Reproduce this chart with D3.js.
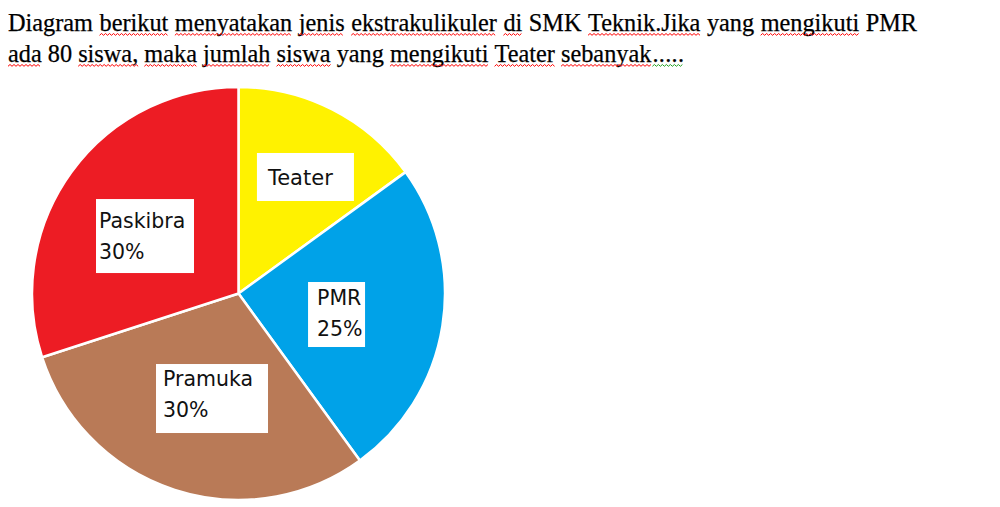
<!DOCTYPE html>
<html><head><meta charset="utf-8">
<script src="https://cdn.jsdelivr.net/npm/d3@7"></script>
<style>body{margin:0;background:#fff;overflow:hidden;} svg{display:block;}</style>
</head><body>
<script>
// ---- data ----
const categories = ["Teater", "PMR", "Pramuka", "Paskibra"];
const percentages = [15, 25, 30, 30];
const labelLines = [["Teater"], ["PMR", "25%"], ["Pramuka", "30%"], ["Paskibra", "30%"]];
const colors = ["#FFF200", "#00A2E8", "#B97A57", "#ED1C24"];
// title tokens: [word, spell-mark ('r' red, 'g' green, '' none), attached to previous word]
const titleLine1 = [["Diagram",""],["berikut","r"],["menyatakan","r"],["jenis","r"],["ekstrakulikuler","r"],["di","r"],["SMK",""],["Teknik.Jika","r"],["yang",""],["mengikuti","r"],["PMR",""]];
const titleLine2 = [["ada","r"],["80",""],["siswa,","r"],["maka","r"],["jumlah","r"],["siswa","r"],["yang",""],["mengikuti","r"],["Teater","r"],["sebanyak","r"],[".....","g",true]];

// ---- layout ----
const W = 1000, H = 507;
const cx = 238.5, cy = 293.5, R = 206.5;
const labelRadius = 110;
const labelShift = [[17, -18.5], [-10.6, 3.8], [7.5, 0.4], [-4.5, 7.2]];
const boxSize = [[97, 48], [57, 65], [112, 69], [98, 74]];
const textInset = [[11, 32], [9, 23], [7, 22], [3, 29]];
const labelFont = [21, 20.5, 20.5, 20.5];
const lineGap = 30.5;

const svg = d3.select("body").append("svg").attr("width", W).attr("height", H);
svg.append("rect").attr("width", W).attr("height", H).attr("fill", "#fff");

// ---- title ----
const titleFont = 24.3;
function drawLine(tokens, baseline, justifyTo) {
  const g = svg.append("g");
  const items = tokens.map(t => {
    const el = g.append("text").attr("y", baseline)
      .attr("font-family", "'Liberation Serif','Times New Roman',serif")
      .attr("font-size", titleFont).attr("fill", "#000")
      .attr("stroke", "#000").attr("stroke-width", 0.25)
      .attr("letter-spacing", t[1] === "g" ? 0.3 : 0)
      .text(t[0]);
    return {el, w: el.node().getComputedTextLength(), mark: t[1], attach: !!t[2]};
  });
  const space = titleFont * 0.25;
  const nGaps = items.filter((d, i) => i > 0 && !d.attach).length;
  const total = d3.sum(items, d => d.w);
  const gap = justifyTo ? (justifyTo - 8 - total) / nGaps : space;
  let x = 8;
  items.forEach((d, i) => {
    if (i > 0 && !d.attach) x += gap;
    if (d.attach) x += 1;
    d.el.attr("x", x);
    if (d.mark) {
      const y0 = baseline + 2.5;
      let p = "M" + x + "," + (y0 + 1.8);
      let up = true;
      for (let xx = x + 2; xx <= x + d.w; xx += 2) { p += "L" + xx + "," + (up ? y0 : y0 + 1.8); up = !up; }
      g.append("path").attr("d", p).attr("fill", "none")
        .attr("stroke", d.mark === "r" ? "#ff0000" : "#22a022").attr("stroke-width", 1);
    }
    x += d.w;
  });
}
drawLine(titleLine1, 31, 917);
drawLine(titleLine2, 62, null);

// ---- pie ----
const pie = d3.pie().sort(null).value(d => d)(percentages);
const arc = d3.arc().innerRadius(0).outerRadius(R);
const pg = svg.append("g").attr("transform", `translate(${cx},${cy})`);
pg.selectAll("path").data(pie).join("path")
  .attr("d", arc)
  .attr("fill", (d, i) => colors[i])
  .attr("stroke", "#fff").attr("stroke-width", 2.5).attr("stroke-linejoin", "round");

// ---- labels ----
const labelArc = d3.arc().innerRadius(labelRadius).outerRadius(labelRadius);
pie.forEach((d, i) => {
  const [px, py] = labelArc.centroid(d);
  const bx = cx + px + labelShift[i][0] - boxSize[i][0] / 2;
  const by = cy + py + labelShift[i][1] - boxSize[i][1] / 2;
  svg.append("rect").attr("x", bx).attr("y", by)
    .attr("width", boxSize[i][0]).attr("height", boxSize[i][1]).attr("fill", "#fff");
  const t = svg.append("text")
    .attr("font-family", "'DejaVu Sans',Verdana,sans-serif")
    .attr("font-size", labelFont[i]).attr("fill", "#111");
  labelLines[i].forEach((ln, j) => {
    t.append("tspan").attr("x", bx + textInset[i][0]).attr("y", by + textInset[i][1] + j * lineGap).text(ln);
  });
});
</script>
</body></html>
